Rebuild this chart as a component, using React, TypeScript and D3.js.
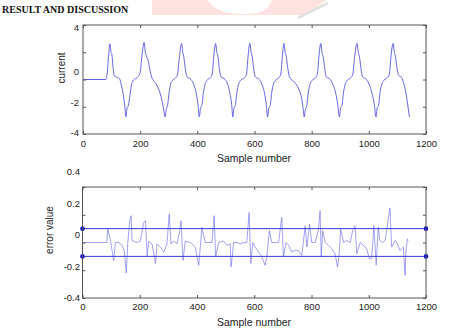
import { useEffect, useRef } from 'react'
import * as d3 from 'd3'

// current waveform
const currentSamples = [
  0, 80, 84, 89, 94, 98, 101, 105, 110, 120, 128, 134, 140, 146, 150, 154, 159, 164, 170, 176,
  190, 200, 205, 214, 218, 222, 228, 233, 240, 255, 268, 278, 283, 287, 291, 296, 301, 307, 314,
  325, 331, 337, 345, 349, 353, 358, 364, 378, 388, 396, 402, 407, 411, 416, 421, 428, 434,
  446, 452, 457, 464, 468, 472, 477, 483, 497, 507, 514, 520, 524, 528, 533, 538, 545, 552,
  566, 572, 577, 584, 588, 592, 597, 603, 617, 627, 635, 641, 646, 650, 655, 660, 667, 674,
  686, 692, 697, 703, 707, 711, 716, 722, 740, 755, 765, 770, 774, 778, 783, 788, 795, 802,
  814, 820, 825, 832, 836, 840, 845, 851, 865, 875, 884, 891, 897, 901, 906, 911, 918, 925,
  938, 944, 950, 959, 963, 967, 972, 978, 992, 1002, 1011, 1019, 1025, 1029, 1034, 1039, 1046, 1053,
  1066, 1072, 1077, 1085, 1089, 1093, 1098, 1104, 1115, 1122, 1130, 1137, 1142,
]
const currentValues = [
  0, 0, 0.3, 1.6, 2.62, 2.0, 1.85, 0.9, 0.25, 0.15, 0.05, -0.4, -1.0, -1.9, -2.75, -2.1, -1.9, -1.2, -0.35, -0.05,
  0.15, 0.5, 1.5, 2.72, 2.0, 1.7, 1.4, 0.8, 0.2, -0.3, -0.9, -1.7, -2.3, -2.75, -2.2, -1.9, -1.0, -0.3, -0.05,
  0.15, 0.4, 1.6, 2.65, 2.0, 1.6, 0.8, 0.2, 0.0, -0.4, -1.0, -1.8, -2.75, -2.1, -1.9, -1.0, -0.3, -0.05,
  0.15, 0.4, 1.6, 2.65, 2.0, 1.7, 0.8, 0.2, 0.0, -0.4, -1.0, -1.8, -2.75, -2.1, -1.9, -1.0, -0.3, -0.05,
  0.15, 0.4, 1.6, 2.65, 2.0, 1.7, 0.8, 0.2, 0.0, -0.4, -1.0, -1.8, -2.75, -2.1, -1.9, -1.0, -0.3, -0.05,
  0.15, 0.4, 1.6, 2.65, 2.0, 1.7, 0.9, 0.2, -0.2, -0.7, -1.4, -2.1, -2.75, -2.2, -1.9, -1.0, -0.3, -0.05,
  0.15, 0.4, 1.6, 2.65, 2.0, 1.7, 0.9, 0.2, 0.0, -0.4, -1.0, -1.8, -2.75, -2.1, -1.9, -1.0, -0.3, -0.05,
  0.15, 0.4, 1.6, 2.65, 2.0, 1.7, 0.9, 0.2, 0.0, -0.4, -1.0, -1.8, -2.75, -2.1, -1.9, -1.0, -0.3, -0.05,
  0.15, 0.4, 1.6, 2.65, 2.0, 1.7, 0.9, 0.3, 0.15, -0.3, -1.0, -2.0, -2.75,
]

// error signal
const errorSamples = [
  0, 85, 88, 98, 109, 115, 127, 138, 146, 153, 158, 165, 170, 173, 191, 202, 214, 220, 226, 231,
  243, 255, 260, 272, 284, 295, 303, 309, 319, 330, 340, 344, 351, 359, 377, 394, 406, 412, 417,
  429, 441, 452, 460, 465, 476, 493, 505, 516, 519, 523, 528, 540, 551, 563, 574, 582, 588, 595,
  603, 615, 627, 638, 644, 653, 661, 673, 685, 696, 702, 711, 720, 731, 743, 754, 766, 778, 784,
  793, 801, 813, 819, 824, 830, 834, 839, 848, 859, 871, 882, 891, 897, 902, 912, 923, 935, 944,
  952, 958, 970, 981, 993, 1002, 1010, 1018, 1026, 1033, 1039, 1049, 1057, 1065, 1074, 1080,
  1092, 1100, 1109, 1121, 1127, 1130, 1135, 1138,
]
const errorValues = [
  0, 0, 0.1, 0.01, -0.13, 0.0, 0.0, -0.02, -0.06, -0.22, -0.01, 0.157, 0.193, 0.014, 0.0, 0.01, 0.145, 0.157, -0.105, 0.01,
  -0.01, -0.152, -0.01, -0.033, -0.069, -0.01, 0.205, -0.01, 0.01, -0.01, 0.086, 0.157, -0.129, 0.01, 0.0, -0.033, -0.164, -0.021, 0.11,
  0.0, 0.0, 0.0, 0.193, -0.105, 0.0, 0.01, -0.02, -0.01, -0.176, -0.105, 0.0, 0.0, -0.01, 0.0, 0.0, 0.217, -0.152, 0.0,
  -0.033, -0.069, -0.105, -0.164, -0.105, 0.086, 0.0, 0.0, 0.0, 0.181, -0.105, 0.0, -0.02, -0.069, -0.057, -0.057, -0.093, 0.12, -0.033,
  0.133, 0.0, 0.0, 0.05, 0.086, 0.229, -0.105, 0.086, 0.0, -0.02, -0.045, -0.081, -0.176, -0.081, 0.098, 0.0, 0.014, 0.0, 0.086,
  0.121, -0.081, 0.0, -0.02, -0.045, -0.117, -0.117, 0.121, -0.164, 0.11, 0.014, 0.0, 0.014, 0.121, 0.248, -0.033,
  0.014, -0.01, -0.057, -0.033, -0.236, -0.057, 0.026, 0.014,
]

const xTicks = [0, 200, 400, 600, 800, 1000, 1200]
const currentTicks = [-4, -2, 0, 2, 4]
const currentTickLabels = [-4, -2, 0, 4]
const errorTicks = [-0.4, -0.2, 0, 0.2, 0.4]
const errorLimits = [-0.1, 0.1]

const W = 468
const H = 329
const labelFont = '"Liberation Sans", Arial, sans-serif'

export default function App() {
  const ref = useRef<SVGSVGElement>(null)

  useEffect(() => {
    if (!ref.current) return
    const svg = d3.select(ref.current)
    svg.selectAll('*').remove()

    // faint watermark behind the heading
    const wm = svg.append('g')
    wm.append('path').attr('d', 'M152,0 L326,0 L306,15 L152,15 Z').attr('fill', '#fde2df')
    wm.append('path')
      .attr('d', 'M207,0 C215,10 225,14 245,14 C262,14 268,10 272,0 Z')
      .attr('fill', '#ffffff')
    wm.append('line')
      .attr('x1', 328).attr('y1', 3).attr('x2', 298).attr('y2', 18)
      .attr('stroke', '#e2e2e2').attr('stroke-width', 3)

    svg.append('text')
      .attr('x', 2).attr('y', 13)
      .style('font', 'bold 10px "Liberation Serif", "Times New Roman", serif')
      .attr('fill', '#111')
      .text('RESULT AND DISCUSSION')

    const drawFrame = (
      x: d3.ScaleLinear<number, number>,
      y: d3.ScaleLinear<number, number>,
      yTicks: number[],
      xPad: number,
    ) => {
      const [x0, x1] = x.range()
      const [y0, y1] = y.range()
      const g = svg.append('g')
      g.append('rect')
        .attr('x', x0).attr('y', y1).attr('width', x1 - x0).attr('height', y0 - y1)
        .attr('fill', 'none').attr('stroke', '#555').attr('stroke-width', 1)
      const axes = [
        { a: d3.axisBottom(x).tickValues(xTicks).tickSize(-3).tickPadding(xPad).tickFormat(d3.format('d')), t: `translate(0,${y0})` },
        { a: d3.axisTop(x).tickValues(xTicks).tickSize(-3).tickFormat(() => ''), t: `translate(0,${y1})` },
        { a: d3.axisLeft(y).tickValues(yTicks).tickSize(-3).tickFormat(() => ''), t: `translate(${x0},0)` },
        { a: d3.axisRight(y).tickValues(yTicks).tickSize(-3).tickFormat(() => ''), t: `translate(${x1},0)` },
      ]
      axes.forEach(({ a, t }) => {
        const ax = g.append('g').attr('transform', t).call(a as any)
        ax.select('.domain').remove()
        ax.selectAll('line').attr('stroke', '#555')
        ax.selectAll('text').style('font', `9.5px ${labelFont}`).attr('fill', '#222')
      })
    }

    // ---- top panel: current ----
    const xTop = d3.scaleLinear().domain([0, 1200]).range([83, 426])
    const yTop = d3.scaleLinear().domain([-4, 4]).range([134, 25])
    // tick labels sit slightly off their ticks in the original figure
    const yTopLab = d3.scaleLinear().domain([-4, -2, 0, 4]).range([133, 103, 72, 28])

    const lineTop = d3
      .line<number>()
      .x((_, i) => xTop(currentSamples[i]))
      .y((d) => yTop(d))
      .curve(d3.curveMonotoneX)
    svg.append('path')
      .attr('d', lineTop(currentValues))
      .attr('fill', 'none').attr('stroke', '#5555e0').attr('stroke-width', 0.9)

    drawFrame(xTop, yTop, currentTicks, 6.5)
    svg.append('g').selectAll('text').data(currentTickLabels).enter().append('text')
      .attr('x', 79).attr('y', (d) => yTopLab(d)).attr('dy', '0.35em')
      .attr('text-anchor', 'end').style('font', `9.5px ${labelFont}`).attr('fill', '#222')
      .text((d) => String(d))

    svg.append('text')
      .attr('transform', 'translate(65,68) rotate(-90)')
      .attr('text-anchor', 'middle').style('font', `10px ${labelFont}`).attr('fill', '#222')
      .text('current')
    svg.append('text')
      .attr('x', 254).attr('y', 161.5)
      .attr('text-anchor', 'middle').style('font', `10.5px ${labelFont}`).attr('fill', '#222')
      .text('Sample number')

    // ---- bottom panel: error ----
    const xBot = d3.scaleLinear().domain([0, 1200]).range([82.5, 426])
    const yBot = d3.scaleLinear().domain([-0.4, 0.4]).range([298, 187])
    const yBotLab = d3.scaleLinear().domain([-0.4, 0.4]).range([298, 172])

    const lineBot = d3
      .line<number>()
      .x((_, i) => xBot(errorSamples[i]))
      .y((d) => yBot(d))
    svg.append('path')
      .attr('d', lineBot(errorValues))
      .attr('fill', 'none').attr('stroke', '#7070f0').attr('stroke-width', 0.65)

    errorLimits.forEach((v) => {
      svg.append('line')
        .attr('x1', xBot(0)).attr('x2', xBot(1200)).attr('y1', yBot(v)).attr('y2', yBot(v))
        .attr('stroke', '#3b3bd6').attr('stroke-width', 1)
      ;[0, 1200].forEach((s) => {
        svg.append('circle').attr('cx', xBot(s)).attr('cy', yBot(v)).attr('r', 2.3).attr('fill', '#1010d0')
      })
    })

    drawFrame(xBot, yBot, errorTicks, 5)
    svg.append('g').selectAll('text').data(errorTicks).enter().append('text')
      .attr('x', 80).attr('y', (d) => yBotLab(d)).attr('dy', '0.35em')
      .attr('text-anchor', 'end').style('font', `9.5px ${labelFont}`).attr('fill', '#222')
      .text((d) => String(d))

    svg.append('text')
      .attr('transform', 'translate(53,230) rotate(-90)')
      .attr('text-anchor', 'middle').style('font', `10px ${labelFont}`).attr('fill', '#222')
      .text('error value')
    svg.append('text')
      .attr('x', 254).attr('y', 325.5)
      .attr('text-anchor', 'middle').style('font', `10.5px ${labelFont}`).attr('fill', '#222')
      .text('Sample number')
  }, [])

  return (
    <svg
      ref={ref}
      width={W}
      height={H}
      style={{ position: 'absolute', left: 0, top: 0, background: '#fff' }}
    />
  )
}
